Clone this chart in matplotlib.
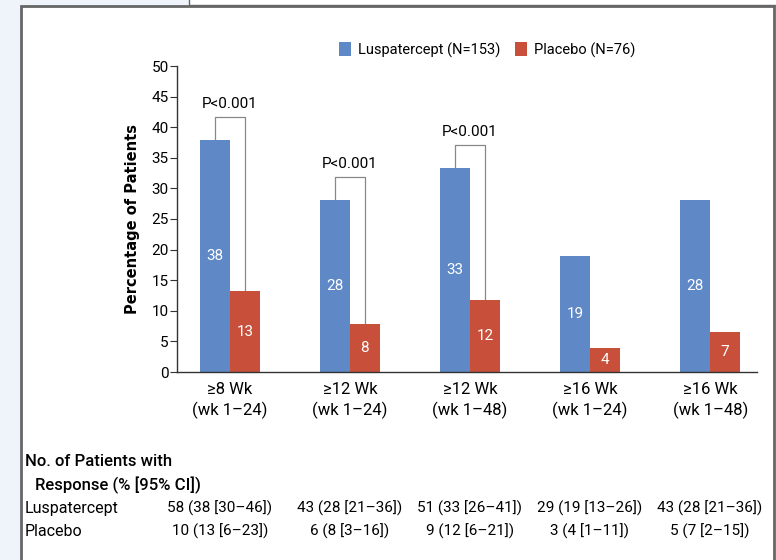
import matplotlib
matplotlib.use('Agg')
import matplotlib.pyplot as plt
from matplotlib.patches import Rectangle
import numpy as np

plt.rcParams['font.family'] = ['Roboto', 'DejaVu Sans']

categories = ['≥8 Wk\n(wk 1–24)', '≥12 Wk\n(wk 1–24)', '≥12 Wk\n(wk 1–48)',
              '≥16 Wk\n(wk 1–24)', '≥16 Wk\n(wk 1–48)']
lusp = [37.9, 28.1, 33.3, 19.0, 28.1]
placebo = [13.2, 7.9, 11.8, 3.9, 6.6]
lusp_labels = ['38', '28', '33', '19', '28']
placebo_labels = ['13', '8', '12', '4', '7']
p_groups = [0, 1, 2]
p_text = 'P<0.001'
lusp_table = ['58 (38 [30–46])', '43 (28 [21–36])', '51 (33 [26–41])',
              '29 (19 [13–26])', '43 (28 [21–36])']
placebo_table = ['10 (13 [6–23])', '6 (8 [3–16])', '9 (12 [6–21])',
                 '3 (4 [1–11])', '5 (7 [2–15])']

blue = '#5e88c6'
red = '#c8503a'

fig = plt.figure(figsize=(7.76, 5.6), dpi=100)
fig.patch.set_facecolor('#eef4fa')

# white panel with gray frame
fig.patches.append(Rectangle((21 / 776, -0.05), 753 / 776, 1 - 6 / 560 + 0.05,
                             transform=fig.transFigure, facecolor='white',
                             edgecolor='#666666', linewidth=2, zorder=-2))
fig.patches.append(Rectangle((189 / 776, 1 - 5 / 560), 0.8, 0.05,
                             transform=fig.transFigure, facecolor='white',
                             edgecolor='#666666', linewidth=1, zorder=-2))

ax = fig.add_axes([177 / 776, 1 - 372 / 560, 580 / 776, 306 / 560])
ax.set_zorder(2)
ax.set_facecolor('none')
x = np.arange(len(categories))
w = 0.25
ax.bar(x - w / 2, lusp, w, color=blue, label='Luspatercept (N=153)', zorder=2)
ax.bar(x + w / 2, placebo, w, color=red, label='Placebo (N=76)', zorder=2)

for i in range(len(categories)):
    ax.text(x[i] - w / 2, lusp[i] / 2, lusp_labels[i], color='white',
            ha='center', va='center', fontsize=11)
    ax.text(x[i] + w / 2, max(placebo[i] / 2, 1.6), placebo_labels[i], color='white',
            ha='center', va='center', fontsize=11)

for i in p_groups:
    top = lusp[i] + 3.8
    ax.plot([x[i] - w / 2, x[i] - w / 2, x[i] + w / 2, x[i] + w / 2],
            [lusp[i], top, top, placebo[i]], color='#888888', lw=0.9, zorder=1)
    ax.text(x[i], top + 1.0, p_text, ha='center', va='bottom', fontsize=11)

ax.set_xlim(-0.44, 4.39)
ax.set_ylim(0, 50)
ax.set_yticks(np.arange(0, 51, 5))
ax.tick_params(axis='y', labelsize=11, length=5, color='#333333', pad=1)
ax.set_xticks(x)
ax.set_xticklabels(categories, fontsize=12, linespacing=1.35)
ax.tick_params(axis='x', length=0, pad=7)
for s in ['top', 'right']:
    ax.spines[s].set_visible(False)
for s in ['left', 'bottom']:
    ax.spines[s].set_color('#333333')
    ax.spines[s].set_linewidth(1)
ax.set_ylabel('Percentage of Patients', fontsize=10.5, fontweight='bold',
              family='DejaVu Sans', labelpad=8)

ax.legend(loc='upper center', bbox_to_anchor=(0.535, 1.12), ncol=2, frameon=False,
          fontsize=10.5, handlelength=0.8, handleheight=1.1, columnspacing=1.0,
          handletextpad=0.5)

# table below chart
fig.text(25 / 776, 1 - 462 / 560, 'No. of Patients with', fontsize=12,
         ha='left', va='center', fontweight='medium')
fig.text(35 / 776, 1 - 485 / 560, 'Response (% [95% CI])', fontsize=12,
         ha='left', va='center', fontweight='medium')
fig.text(25 / 776, 1 - 508 / 560, 'Luspatercept', fontsize=11.5, ha='left', va='center')
fig.text(25 / 776, 1 - 531 / 560, 'Placebo', fontsize=11.5, ha='left', va='center')
for i in range(len(categories)):
    xf = (177 + (x[i] + 0.44) * 120) / 776 - (10 / 776 if i == 0 else 0)
    fig.text(xf, 1 - 508 / 560, lusp_table[i], fontsize=11, ha='center', va='center')
    fig.text(xf, 1 - 531 / 560, placebo_table[i], fontsize=11, ha='center', va='center')

fig.savefig('out.png', dpi=100)
